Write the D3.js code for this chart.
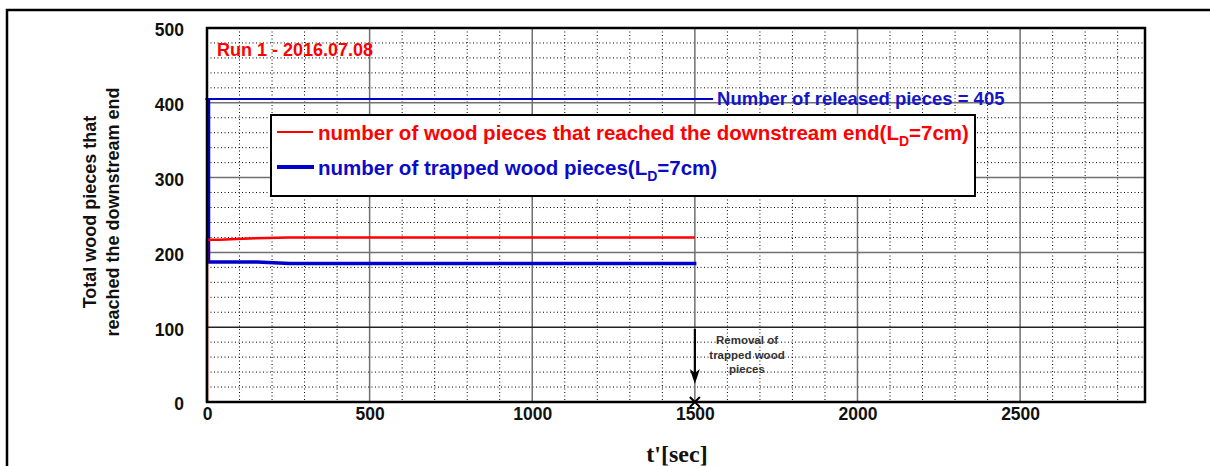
<!DOCTYPE html>
<html><head><meta charset="utf-8">
<script src="https://cdn.jsdelivr.net/npm/d3@7"></script>
<style>body{margin:0;background:#fff}svg{display:block}</style>
</head><body>
<svg id="c" width="1210" height="466" font-family="Arial, 'Liberation Sans', sans-serif"></svg>
<script>
// data
const redT = [0, 0, 40, 90, 150, 250, 1500];
const redV = [0, 217, 217, 218, 219, 220, 220];
const blueT = [0, 0, 150, 250, 1500];
const blueV = [405, 187, 187, 185, 185];
const releasedT = [-5, 1556];
const releasedV = [405, 405];
const xTicks = [0, 500, 1000, 1500, 2000, 2500];
const yTicks = [0, 100, 200, 300, 400, 500];
const title = "Run 1 - 2016.07.08";
const redLabel = "number of wood pieces that reached the downstream end(L";
const blueLabel = "number of trapped wood pieces(L";
const releasedLabel = "Number of released pieces = 405";

const SANS = "Arial, 'Liberation Sans', sans-serif";
const svg = d3.select("#c");
const L = 207, R = 1145, T = 28, B = 402;
const x = d3.scaleLinear().domain([0, 2884]).range([L, R]);
const y = d3.scaleLinear().domain([0, 500]).range([B, T]);

// outer frame
svg.append("rect").attr("x", 7).attr("y", 10).attr("width", 1220).attr("height", 480)
  .attr("fill", "none").attr("stroke", "#000").attr("stroke-width", 2.5);

const g = svg.append("g");
// minor grid
const minorX = d3.range(100, 2884, 100).filter(v => v % 500 !== 0);
const minorY = d3.range(20, 500, 20).filter(v => v % 100 !== 0);
g.selectAll(".mx").data(minorX).join("line")
  .attr("x1", d => x(d)).attr("x2", d => x(d)).attr("y1", T).attr("y2", B)
  .attr("stroke", "#000").attr("stroke-width", 1).attr("stroke-dasharray", "1,2.5");
g.selectAll(".my").data(minorY).join("line")
  .attr("x1", L).attr("x2", R).attr("y1", d => y(d)).attr("y2", d => y(d))
  .attr("stroke", "#000").attr("stroke-width", 1).attr("stroke-dasharray", "1,2.5");
// major grid
g.selectAll(".Mx").data(xTicks.filter(v => v > 0)).join("line")
  .attr("x1", d => x(d)).attr("x2", d => x(d)).attr("y1", T).attr("y2", B)
  .attr("stroke", "#707070").attr("stroke-width", 1.5);
g.selectAll(".My").data(yTicks.filter(v => v > 0 && v < 500)).join("line")
  .attr("x1", L).attr("x2", R).attr("y1", d => y(d)).attr("y2", d => y(d))
  .attr("stroke", d => d === 100 ? "#222" : "#707070").attr("stroke-width", 1.5);

// axes with tick labels
const xAxis = d3.axisBottom(x).tickValues(xTicks).tickFormat(d3.format("d")).tickSize(0).tickPadding(6);
const gx = svg.append("g").attr("transform", `translate(0,${B})`).call(xAxis);
gx.select(".domain").remove();
gx.selectAll("text").attr("font-size", 17.5).attr("font-weight", "bold").attr("fill", "#111")
  .attr("font-family", SANS);
const yAxis = d3.axisLeft(y).tickValues(yTicks).tickFormat(d3.format("d")).tickSize(0).tickPadding(23);
const gy = svg.append("g").attr("transform", `translate(${L},0)`).call(yAxis);
gy.select(".domain").remove();
gy.selectAll("text").attr("font-size", 17.5).attr("font-weight", "bold").attr("fill", "#111")
  .attr("font-family", SANS).attr("dy", "0.45em");

// lines
const line = d3.line().x(d => x(d[0])).y(d => y(d[1]));
svg.append("path").datum(blueT.map((t, i) => [t, blueV[i]]))
  .attr("d", line).attr("fill", "none").attr("stroke", "#0000cc").attr("stroke-width", 3.5)
  .attr("transform", "translate(1.5,0)");
svg.append("path").datum(redT.map((t, i) => [t, redV[i]]))
  .attr("d", line).attr("fill", "none").attr("stroke", "#ff0000").attr("stroke-width", 2.5);
svg.append("path").datum(releasedT.map((t, i) => [t, releasedV[i]]))
  .attr("d", line).attr("fill", "none").attr("stroke", "#0000cc").attr("stroke-width", 2);

// plot frame
svg.append("rect").attr("x", L).attr("y", T).attr("width", R - L).attr("height", B - T)
  .attr("fill", "none").attr("stroke", "#000").attr("stroke-width", 2.5);

// title
svg.append("text").attr("x", 217).attr("y", 56).text(title)
  .attr("fill", "#ff0000").attr("font-size", 18).attr("font-weight", "bold");

// released label
svg.append("text").attr("x", x(releasedT[1]) + 4).attr("y", y(405) + 6).text(releasedLabel)
  .attr("fill", "#1515c8").attr("font-size", 18.5).attr("font-weight", "bold");

// legend
const lg = svg.append("g");
lg.append("rect").attr("x", 271).attr("y", 115).attr("width", 704).attr("height", 81)
  .attr("fill", "#fff").attr("stroke", "#000").attr("stroke-width", 2);
lg.append("line").attr("x1", 277).attr("x2", 313).attr("y1", 132).attr("y2", 132)
  .attr("stroke", "#ff0000").attr("stroke-width", 2);
lg.append("line").attr("x1", 277).attr("x2", 314).attr("y1", 167).attr("y2", 167)
  .attr("stroke", "#0000cc").attr("stroke-width", 4);
const t1 = lg.append("text").attr("x", 318).attr("y", 140).attr("fill", "#ff0000")
  .attr("font-size", 20.5).attr("font-weight", "bold");
t1.append("tspan").text(redLabel);
t1.append("tspan").attr("dy", 6).attr("font-size", 14).text("D");
t1.append("tspan").attr("dy", -6).text("=7cm)");
const t2 = lg.append("text").attr("x", 318).attr("y", 175).attr("fill", "#0a0ac8")
  .attr("font-size", 20.5).attr("font-weight", "bold");
t2.append("tspan").text(blueLabel);
t2.append("tspan").attr("dy", 6).attr("font-size", 14).text("D");
t2.append("tspan").attr("dy", -6).text("=7cm)");

// y title
svg.append("text").attr("transform", `translate(96,212) rotate(-90)`).attr("text-anchor", "middle")
  .attr("font-size", 18).attr("font-weight", "bold").attr("fill", "#111").text("Total wood pieces that");
svg.append("text").attr("transform", `translate(119,212) rotate(-90)`).attr("text-anchor", "middle")
  .attr("font-size", 18).attr("font-weight", "bold").attr("fill", "#111").text("reached the downstream end");

// x title
svg.append("text").attr("x", 677).attr("y", 462).attr("text-anchor", "middle")
  .attr("font-family", "'Liberation Serif', 'Times New Roman', serif").attr("font-size", 24)
  .attr("font-weight", "bold").attr("fill", "#111").text("t'[sec]");

// annotation
const ax = x(1500);
svg.append("line").attr("x1", ax).attr("x2", ax).attr("y1", 329).attr("y2", 375)
  .attr("stroke", "#000").attr("stroke-width", 2.2);
svg.append("path").attr("d", `M${ax - 5},369 L${ax},384 L${ax + 5},369 L${ax},373 Z`).attr("fill", "#000");
svg.append("path").attr("d", `M${ax - 5},${B - 5} L${ax + 5},${B + 5} M${ax - 5},${B + 5} L${ax + 5},${B - 5}`)
  .attr("stroke", "#000").attr("stroke-width", 2);
const an = ["Removal of", "trapped wood", "pieces"];
svg.selectAll(".an").data(an).join("text").attr("x", 747).attr("y", (d, i) => 344 + i * 14.5)
  .attr("text-anchor", "middle").attr("font-size", 11.5).attr("font-weight", "bold").attr("fill", "#333").text(d => d);
</script>
</body></html>
